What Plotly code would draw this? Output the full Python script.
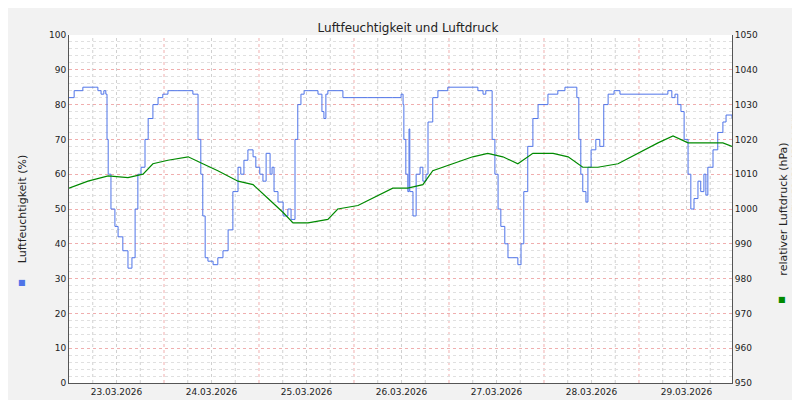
import plotly.graph_objects as go

dates = ["23.03.2026","24.03.2026","25.03.2026","26.03.2026","27.03.2026","28.03.2026","29.03.2026"]
hum_h = [0,1.3,3.5,6.6,7.3,8.1,8.8,9.3,9.6,9.9,10.6,11.6,12.4,13.6,14.9,15.9,16.7,17.4,18.2,19.2,20,21.2,22.5,23.7,25,27.5,31.3,32.6,33.3,33.8,34.4,35.1,36.4,37.6,38.9,40.2,41.4,42.7,43.4,44.2,45.2,46.5,47.2,48.2,49,49.8,50.8,51.3,51.8,52.8,54.1,55.3,56.1,57.1,57.8,58.6,59.4,60.4,62.9,63.9,64.4,64.9,65.4,66.7,69.2,70.5,75.5,81.8,83.9,84.4,84.6,85.1,85.6,85.9,86.1,86.9,87.7,88.7,89.4,90.2,90.7,91.9,93.2,95.7,100.8,103.3,104.6,105.3,106.3,106.9,107.6,108.4,109.1,110.1,110.9,113.4,114.2,114.9,115.9,117.2,118.5,121,123.5,125.3,127.8,128.3,128.8,129.3,129.8,130.6,131.1,131.9,133.1,134.1,135.1,136.2,137.7,139.2,148.8,151.3,152.3,153.1,153.8,154.6,155.4,156.4,157.1,157.9,158.9,159.6,160.4,160.9,161.4,162.7,163.9,165.2,166,167.5]
hum_v = [82,84,85,85,84,83,84,83,70,60,50,45,42,38,33,36,50,60,62,70,76,80,82,83,84,84,83,70,60,48,36,35,34,36,38,44,55,62,60,64,67,65,62,60,58,66,60,62,55,52,48,50,47,70,80,83,84,84,83,78,76,83,84,84,82,82,82,82,83,80,70,60,55,73,55,48,60,62,58,60,75,82,84,85,85,84,83,84,84,70,60,50,45,40,36,34,40,55,68,76,80,83,84,85,85,82,70,60,55,52,62,67,70,68,80,83,84,83,83,84,82,83,80,78,70,60,50,53,58,55,60,54,62,67,72,75,77,76]
pres_h = [0,4.8,9.9,14.9,18.7,21.2,25,30.1,33.8,37.6,42.7,46.5,50.3,54.1,56.6,60.4,65.4,67.9,73,78.1,81.8,85.6,89.4,91.9,97,102,105.8,109.6,113.4,117.2,122.3,126.1,129.8,133.6,138.7,143.7,148.8,152.6,156.4,161.4,165.2,167.5]
pres_v = [1006,1008,1009.5,1009,1010,1013,1014,1015,1013,1011,1008,1007,1003,999,996,996,997,1000,1001,1004,1006,1006,1007,1011,1013,1015,1016,1015,1013,1016,1016,1015,1012,1012,1013,1016,1019,1021,1019,1019,1019,1018]

fig = go.Figure()
fig.add_trace(go.Scatter(x=hum_h, y=hum_v, mode="lines", line=dict(color="#4f74e8", width=1, shape="hv"), showlegend=False))
fig.add_trace(go.Scatter(x=pres_h, y=pres_v, mode="lines", yaxis="y2", line=dict(color="#008a00", width=1.2), showlegend=False))

shapes = []
for h in range(6, 168, 6):
    major = h % 24 == 0
    shapes.append(dict(type="line", xref="x", yref="paper", x0=h, x1=h, y0=0, y1=1, layer="below",
                       line=dict(color="rgba(230,120,120,0.6)" if major else "#d0d0d0", width=1, dash="dot")))
fig.update_layout(
    width=800, height=400, paper_bgcolor="#f2f2f2", plot_bgcolor="white",
    margin=dict(l=61, r=76, t=27, b=25, autoexpand=False),
    font=dict(family="DejaVu Sans", size=9, color="#222"),
    title=dict(text="Luftfeuchtigkeit und Luftdruck", x=0.5, y=0.96, xanchor="center", font=dict(size=12)),
    shapes=shapes,
    xaxis=dict(range=[0, 167.5], tickvals=[12+24*i for i in range(7)], ticktext=dates, showgrid=False,
               zeroline=False, showline=True, linecolor="#555", ticks="", automargin=False),
    yaxis=dict(range=[0, 100], dtick=10, showgrid=True, gridcolor="rgba(230,120,120,0.6)", griddash="dot",
               minor=dict(dtick=2, showgrid=True, gridcolor="#e0e0e0", griddash="dot"),
               zeroline=False, showline=True, linecolor="#555", ticks="", automargin=False,
               title=dict(text="Luftfeuchtigkeit (%)", standoff=20)),
    yaxis2=dict(range=[950, 1050], dtick=10, overlaying="y", side="right", showgrid=False, zeroline=False,
                showline=True, linecolor="#555", ticks="", automargin=False,
                title=dict(text="relativer Luftdruck (hPa)", standoff=22)),
    annotations=[
        dict(text="■", x=-0.08, y=0.27, xref="paper", yref="paper", showarrow=False, font=dict(color="#4f74e8", size=8)),
        dict(text="■", x=1.085, y=0.22, xref="paper", yref="paper", showarrow=False, font=dict(color="#008a00", size=8)),
        dict(text="RRDTOOL / TOBI OETIKER", x=1.105, y=0.78, xref="paper", yref="paper", showarrow=False,
             textangle=90, font=dict(color="#bbbbbb", size=8)),
    ],
)
fig.write_html("out.html")
